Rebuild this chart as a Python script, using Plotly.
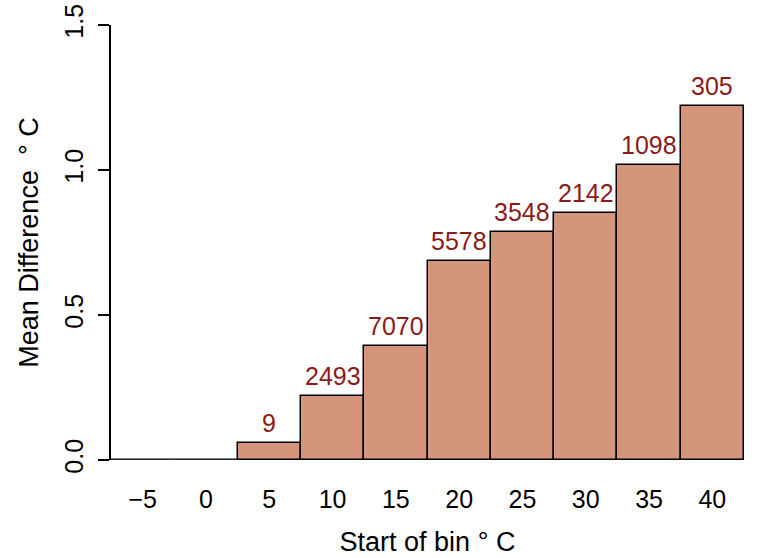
import plotly.graph_objects as go

# Bin starts (deg C), mean difference per bin, and number of records per bin
bin_starts = ["\u22125", "0", "5", "10", "15", "20", "25", "30", "35", "40"]
mean_diff = [0.0, 0.0, 0.057, 0.221, 0.393, 0.686, 0.787, 0.853, 1.017, 1.222]
counts = [None, None, 9, 2493, 7070, 5578, 3548, 2142, 1098, 305]
y_ticks = [0.0, 0.5, 1.0, 1.5]
y_tick_text = ["0.0", "0.5", "1.0", "1.5"]

FONT = "Liberation Sans, Arial, Helvetica, sans-serif"
FILL = "#D4957A"
LABEL_COLOR = "#8B1A1A"

fig = go.Figure()

fig.add_trace(go.Bar(
    x=list(range(len(bin_starts))),
    y=mean_diff,
    marker=dict(color=FILL, line=dict(color="black", width=1.5)),
    hoverinfo="skip",
    showlegend=False,
))

# Empty bins are drawn as flat outlines along the baseline
for i, v in enumerate(mean_diff):
    if v == 0:
        fig.add_trace(go.Scatter(
            x=[i - 0.5, i + 0.5], y=[v, v], mode="lines",
            line=dict(color="#555555", width=1.2),
            hoverinfo="skip", showlegend=False, cliponaxis=False,
        ))

# Record counts above each bar
for i, (v, c) in enumerate(zip(mean_diff, counts)):
    if c is None:
        continue
    fig.add_annotation(
        x=i, y=v, text=str(c), showarrow=False,
        yanchor="bottom", yshift=4,
        font=dict(family=FONT, size=25, color=LABEL_COLOR),
    )

fig.update_layout(
    width=758, height=558,
    margin=dict(l=111, r=14, t=25, b=98),
    paper_bgcolor="white", plot_bgcolor="white",
    bargap=0,
    font=dict(family=FONT, size=24, color="black"),
    xaxis=dict(
        range=[-0.5, len(bin_starts) - 0.5],
        tickmode="array",
        tickvals=list(range(len(bin_starts))),
        ticktext=bin_starts,
        showline=False, showgrid=False, zeroline=False,
        ticks="", ticklen=0,
        ticklabelstandoff=22,
        automargin=False,
        tickfont=dict(family=FONT, size=25, color="black"),
        title=dict(text="Start of bin ° C", font=dict(family=FONT, size=27), standoff=20),
    ),
    yaxis=dict(
        range=[0, 1.5],
        tickmode="array",
        tickvals=y_ticks,
        ticktext=y_tick_text,
        tickangle=-90,
        showline=True, linecolor="black", linewidth=1.5,
        ticks="outside", ticklen=11, tickwidth=1.5, tickcolor="black",
        ticklabelstandoff=5,
        automargin=False,
        showgrid=False, zeroline=False,
        tickfont=dict(family=FONT, size=25, color="black"),
        title=dict(text="Mean Difference  ° C", font=dict(family=FONT, size=27), standoff=14),
    ),
)

fig.write_html("out.html")
